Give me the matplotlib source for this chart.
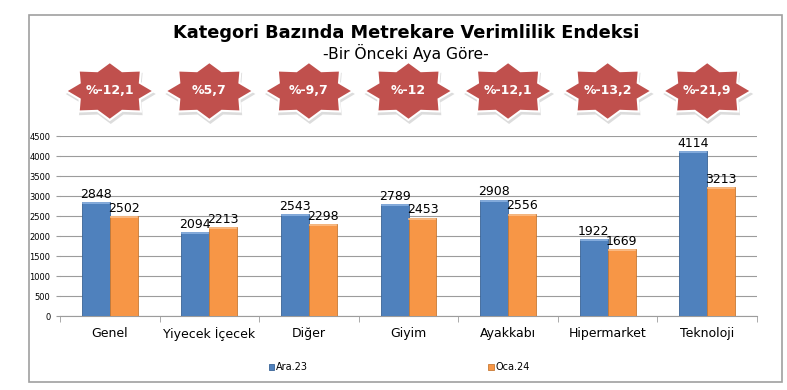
import matplotlib
matplotlib.use("Agg")
import matplotlib.pyplot as plt
import numpy as np
from matplotlib.patches import Polygon, Rectangle

# data
categories = ["Genel", "Yiyecek İçecek", "Diğer", "Giyim", "Ayakkabı", "Hipermarket", "Teknoloji"]
ara23 = [2848, 2094, 2543, 2789, 2908, 1922, 4114]
oca24 = [2502, 2213, 2298, 2453, 2556, 1669, 3213]
changes = ["%-12,1", "%5,7", "%-9,7", "%-12", "%-12,1", "%-13,2", "%-21,9"]
series_names = ["Ara.23", "Oca.24"]
yticks = list(range(0, 4501, 500))

BLUE = "#4F81BD"
ORANGE = "#F79646"
STAR_RED = "#C0504D"
W, H = 787, 390


def star_points(cx, cy, rx, ry, inner=0.74, n=8):
    """Vertices of an n-pointed star stretched to an ellipse (pixel coords, y down)."""
    pts = []
    for k in range(2 * n):
        ang = np.pi * k / n
        r = 1.0 if k % 2 == 0 else inner
        pts.append((cx + rx * r * np.cos(ang), cy - ry * r * np.sin(ang)))
    return pts


fig = plt.figure(figsize=(W / 100, H / 100), dpi=100)
fig.patch.set_facecolor("white")

# overlay in pixel space for the frame and the star badges
deco = fig.add_axes([0, 0, 1, 1])
deco.set_xlim(0, W)
deco.set_ylim(H, 0)
deco.axis("off")
deco.add_patch(Rectangle((29, 15), 753, 367, fill=False, edgecolor="#A0A0A0", linewidth=1.2))

ax = fig.add_axes([60 / W, 1 - 316 / H, 697 / W, 180 / H])
ax.patch.set_alpha(0)

x = np.arange(len(categories))
bw = 0.28
b1 = ax.bar(x - bw / 2, ara23, bw, color=BLUE, edgecolor="#3A6496", linewidth=0.6,
            label=series_names[0], zorder=3)
b2 = ax.bar(x + bw / 2, oca24, bw, color=ORANGE, edgecolor="#C77A36", linewidth=0.6,
            label=series_names[1], zorder=3)

# light top highlight to hint the bevelled bars
for bars, col in ((b1, "#8EB4E3"), (b2, "#FBC08C")):
    for r in bars:
        ax.plot([r.get_x() + 0.01, r.get_x() + r.get_width() - 0.01],
                [r.get_height() - 25] * 2, color=col, linewidth=1.2, zorder=4)

for bars, vals in ((b1, ara23), (b2, oca24)):
    for r, v in zip(bars, vals):
        ax.annotate(str(v), (r.get_x() + r.get_width() / 2, v), xytext=(0, 1),
                    textcoords="offset points", ha="center", va="bottom",
                    fontsize=9, color="black", zorder=5)

ax.set_xlim(-0.5, len(categories) - 0.5)
ax.set_ylim(0, 4500)
ax.set_yticks(yticks)
ax.set_yticklabels([str(t) for t in yticks], fontsize=6)
ax.yaxis.grid(True, color="#9C9C9C", linewidth=0.8, zorder=0)
ax.tick_params(axis="y", length=3, color="#9C9C9C", pad=4)

ax.set_xticks(x)
ax.set_xticklabels(categories, fontsize=9)
ax.set_xticks(np.arange(-0.5, len(categories)), minor=True)
ax.tick_params(axis="x", which="major", length=0, pad=8)
ax.tick_params(axis="x", which="minor", length=4, color="#9C9C9C")

for side in ("top", "right", "left"):
    ax.spines[side].set_visible(False)
ax.spines["bottom"].set_color("#9C9C9C")

ax.legend(loc="center", bbox_to_anchor=(0.487, -0.285), ncol=2, frameon=False,
          fontsize=7, handlelength=0.6, handleheight=0.6, handletextpad=0.2,
          columnspacing=18.5)

# titles
fig.text(406 / W, 1 - 33 / H, "Kategori Bazında Metrekare Verimlilik Endeksi",
         ha="center", va="center", fontsize=12.8, fontweight="bold")
fig.text(406 / W, 1 - 53 / H, "-Bir Önceki Aya Göre-",
         ha="center", va="center", fontsize=11.2)

# star badges centred over each category
for i, label in enumerate(changes):
    cx = ax.transData.transform((i, 0))[0]
    cy = 91
    shadow = Polygon(star_points(cx + 1, cy + 3, 45, 30), closed=True,
                     facecolor="#D4D4D4", edgecolor="none", alpha=0.8)
    deco.add_patch(shadow)
    star = Polygon(star_points(cx, cy, 44, 29), closed=True,
                   facecolor=STAR_RED, edgecolor="white", linewidth=1.5)
    deco.add_patch(star)
    deco.text(cx, cy, label, ha="center", va="center", color="white",
              fontsize=9, fontweight="bold")

fig.savefig("out.png", dpi=100)
